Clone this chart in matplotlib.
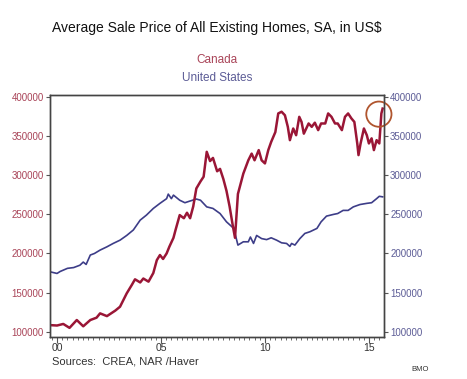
import matplotlib.pyplot as plt
from matplotlib.ticker import MultipleLocator, FixedLocator

plt.rcParams['font.family'] = ['Liberation Sans', 'DejaVu Sans']

# Canada average sale price (US$)
can_t = [1999.66, 2000.0, 2000.3, 2000.6, 2000.95, 2001.26, 2001.6, 2001.9, 2002.07,
         2002.4, 2002.8, 2003.03, 2003.35, 2003.6, 2003.75, 2004.0, 2004.15, 2004.4,
         2004.63, 2004.8, 2004.95, 2005.1, 2005.27, 2005.4, 2005.6, 2005.7, 2005.9,
         2006.1, 2006.25, 2006.4, 2006.55, 2006.7, 2006.9, 2007.05, 2007.2, 2007.36,
         2007.5, 2007.7, 2007.84, 2008.0, 2008.15, 2008.3, 2008.45, 2008.56, 2008.7,
         2008.96, 2009.2, 2009.36, 2009.5, 2009.7, 2009.84, 2010.0, 2010.16, 2010.3,
         2010.5, 2010.64, 2010.8, 2010.96, 2011.1, 2011.2, 2011.36, 2011.5, 2011.65,
         2011.76, 2011.87, 2012.1, 2012.25, 2012.4, 2012.56, 2012.7, 2012.9, 2013.04,
         2013.2, 2013.37, 2013.5, 2013.7, 2013.85, 2014.0, 2014.16, 2014.3, 2014.44,
         2014.5, 2014.6, 2014.76, 2014.9, 2015.0, 2015.13, 2015.24, 2015.37, 2015.5,
         2015.6, 2015.66]
can_v = [108500, 108000, 110000, 105000, 115000, 107000, 115000, 118000, 123500,
         120000, 127000, 132000, 149000, 160000, 167000, 163000, 168000, 164000,
         175000, 191500, 198000, 193000, 200000, 208500, 220000, 230000, 249000,
         245000, 252000, 245000, 260000, 283000, 292000, 298000, 329800, 318000,
         322000, 305000, 308000, 295000, 280000, 260000, 236000, 220000, 276000,
         302000, 319000, 327500, 319000, 332000, 319000, 315000, 332000, 342500,
         355000, 378800, 381000, 376500, 361700, 344700, 359600, 351000, 374500,
         368000, 353000, 366000, 361700, 367000, 357500, 366000, 366000, 378800,
         374500, 366000, 366000, 357500, 374500, 378800, 372400, 368000, 340500,
         325600, 340500, 359600, 351000, 340500, 347000, 332000, 344700, 340500,
         378800, 385000]

# United States average sale price (US$)
us_t = [1999.66, 2000.0, 2000.15, 2000.5, 2000.8, 2001.1, 2001.26, 2001.4, 2001.6,
        2001.8, 2002.07, 2002.4, 2002.7, 2003.03, 2003.35, 2003.67, 2004.0, 2004.3,
        2004.63, 2004.95, 2005.27, 2005.35, 2005.5, 2005.6, 2005.9, 2006.15, 2006.4,
        2006.7, 2006.9, 2007.2, 2007.5, 2007.84, 2008.15, 2008.5, 2008.7, 2008.96,
        2009.2, 2009.3, 2009.45, 2009.6, 2009.84, 2010.08, 2010.3, 2010.56, 2010.8,
        2011.04, 2011.2, 2011.28, 2011.44, 2011.68, 2011.92, 2012.16, 2012.5, 2012.7,
        2012.96, 2013.3, 2013.5, 2013.76, 2014.0, 2014.25, 2014.57, 2014.9, 2015.13,
        2015.37, 2015.5, 2015.66]
us_v = [176600, 174500, 177000, 181000, 182000, 185000, 189000, 186000, 198000,
        200000, 204300, 208500, 212800, 217000, 223000, 230000, 242600, 249000,
        257500, 264000, 270000, 275800, 270000, 274500, 268000, 264800, 267000,
        269500, 268000, 259500, 257500, 251000, 240400, 232000, 210700, 214900,
        214900, 221000, 212800, 223000, 219000, 217700, 220000, 217000, 213600,
        212800, 209000, 212800, 210700, 219000, 225600, 227700, 232000, 240400,
        247700, 249900, 251000, 255000, 255000, 259500, 262500, 264000, 264800,
        270000, 273000, 272300]

yticks = [100000, 150000, 200000, 250000, 300000, 350000, 400000]
xticks = [2000, 2005, 2010, 2015]
xlabels = ['00', '05', '10', '15']

red = '#9a1636'
blue = '#3d3d88'
red_lbl = '#a94458'
blue_lbl = '#5c5c96'

fig = plt.figure(figsize=(4.67, 3.79), dpi=100)
ax = fig.add_axes([0.107, 0.112, 0.715, 0.637])

ax.plot(us_t, us_v, color=blue, lw=1.2)
ax.plot(can_t, can_v, color=red, lw=1.8)

ax.set_xlim(1999.66, 2015.72)
ax.set_ylim(93900, 402200)

ax.set_yticks(yticks)
ax.set_yticklabels([str(v) for v in yticks])
ax.tick_params(axis='y', direction='out', length=3, labelsize=7, colors='#555555',
               labelcolor=red_lbl, pad=1.5)

# right axis labels in the US colour
ax2 = ax.twinx()
ax2.set_ylim(ax.get_ylim())
ax2.set_yticks(yticks)
ax2.set_yticklabels([str(v) for v in yticks])
ax2.tick_params(axis='y', direction='out', length=3, labelsize=7, colors='#555555',
                labelcolor=blue_lbl, pad=1.5)

ax.xaxis.set_major_locator(FixedLocator(xticks))
ax.set_xticklabels(xlabels)
ax.xaxis.set_minor_locator(MultipleLocator(0.25))
ax.tick_params(axis='x', which='major', direction='out', length=4, labelsize=7.5,
               colors='#555555', labelcolor='#333333', pad=1)
ax.tick_params(axis='x', which='minor', direction='out', length=2, colors='#555555')

for a in (ax, ax2):
    for s in a.spines.values():
        s.set_color('#444444')
        s.set_linewidth(1.0)

# highlight circle around the latest Canadian reading
ax.scatter([2015.48], [377900], s=330, facecolors='none', edgecolors='#b0552e',
           linewidths=1.3, clip_on=False, zorder=5)

fig.text(0.465, 0.925, 'Average Sale Price of All Existing Homes, SA, in US$',
         ha='center', va='center', fontsize=10, color='#111111')
fig.text(0.465, 0.842, 'Canada', ha='center', va='center', fontsize=8.5, color=red_lbl)
fig.text(0.465, 0.795, 'United States', ha='center', va='center', fontsize=8.5,
         color=blue_lbl)
fig.text(0.112, 0.046, 'Sources:  CREA, NAR /Haver', ha='left', va='center',
         fontsize=8, color='#333333')
fig.text(0.88, 0.025, 'BMO', ha='left', va='center', fontsize=5.5, color='#333333')

fig.savefig('out.png', dpi=100, facecolor='white')
